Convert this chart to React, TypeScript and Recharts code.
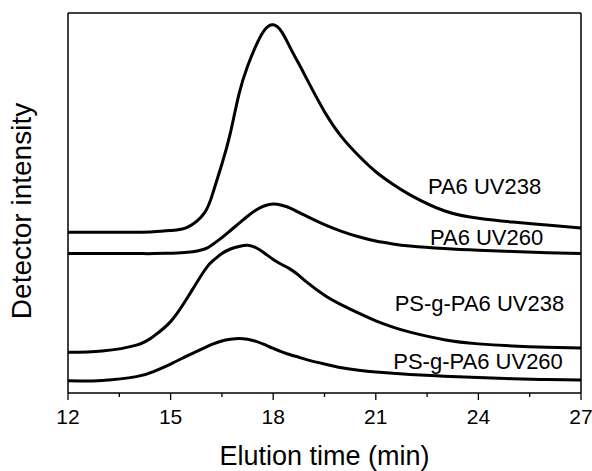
import React from 'react';
import { LineChart, Line, XAxis, YAxis, ReferenceDot } from 'recharts';

// elution time (min)
const times = [12, 13, 14, 14.5, 15, 15.5, 16, 16.25, 16.5, 16.75, 17, 17.25, 17.5, 17.75, 18, 18.25, 18.5, 18.75, 19, 19.5, 20, 20.5, 21, 21.5, 22, 23, 24, 25, 26, 27];

// detector traces (offset, arbitrary units)
const pa6Uv238 = [3.83, 3.83, 3.83, 3.84, 3.87, 3.95, 4.3, 4.8, 5.45, 6.2, 7.12, 7.78, 8.28, 8.65, 8.77, 8.6, 8.22, 7.84, 7.45, 6.7, 6.1, 5.65, 5.27, 4.97, 4.72, 4.34, 4.16, 4.07, 4.0, 3.93];
const pa6Uv260 = [3.32, 3.32, 3.32, 3.32, 3.33, 3.35, 3.43, 3.55, 3.7, 3.87, 4.04, 4.21, 4.36, 4.46, 4.5, 4.47, 4.4, 4.3, 4.2, 4.01, 3.85, 3.72, 3.62, 3.55, 3.5, 3.44, 3.4, 3.37, 3.34, 3.32];
const psPa6Uv238 = [0.97, 1.0, 1.14, 1.35, 1.7, 2.28, 2.93, 3.16, 3.32, 3.43, 3.49, 3.52, 3.46, 3.33, 3.18, 3.06, 2.95, 2.8, 2.63, 2.33, 2.1, 1.9, 1.72, 1.57, 1.45, 1.27, 1.17, 1.12, 1.09, 1.07];
const psPa6Uv260 = [0.29, 0.3, 0.39, 0.51, 0.69, 0.89, 1.08, 1.17, 1.24, 1.28, 1.3, 1.28, 1.23, 1.15, 1.06, 0.98, 0.91, 0.85, 0.79, 0.69, 0.6, 0.54, 0.5, 0.47, 0.44, 0.4, 0.37, 0.34, 0.32, 0.31];

const majorTicks = [12, 15, 18, 21, 24, 27];
const xTicks = [12, 13.5, 15, 16.5, 18, 19.5, 21, 22.5, 24, 25.5, 27];
const yTicks = [0.5, 1.5, 2.5, 3.5, 4.5, 5.5, 6.5, 7.5, 8.5];

const traceNames = ['PA6 UV238', 'PA6 UV260', 'PS-g-PA6 UV238', 'PS-g-PA6 UV260'];
// where each name sits, in data units
const nameAt = [
  { x: 24.18, y: 4.93 },
  { x: 24.24, y: 3.7 },
  { x: 24.03, y: 2.14 },
  { x: 23.99, y: 0.76 },
];

const rows = times.map((t, i) => ({
  t,
  a: pa6Uv238[i],
  b: pa6Uv260[i],
  c: psPa6Uv238[i],
  d: psPa6Uv260[i],
}));

const ink = '#000';

function BottomTick(props: any) {
  const { x, y, payload } = props;
  const major = majorTicks.includes(payload.value);
  return (
    <g>
      <line x1={x} x2={x} y1={y} y2={y + (major ? 7 : 4)} stroke={ink} strokeWidth={1.3} />
      {major && (
        <text x={x} y={y + 31} textAnchor="middle" fontSize={21} fill={ink}>
          {payload.value}
        </text>
      )}
    </g>
  );
}

const YTitle = () => (
  <text x={31} y={211} transform="rotate(-90 31 211)" textAnchor="middle" fontSize={28} fill={ink}>
    Detector intensity
  </text>
);

export default function App() {
  return (
    <div style={{ position: 'absolute', left: 0, top: 0, fontFamily: '"Liberation Sans", Arial, sans-serif' }}>
      <LineChart width={592} height={471} data={rows} margin={{ top: 12, right: 10, bottom: 0, left: 67 }}>
        <XAxis
          xAxisId="b"
          dataKey="t"
          type="number"
          domain={[12, 27]}
          ticks={xTicks}
          height={78}
          tickSize={0}
          tickMargin={0}
          tickLine={false}
          tick={<BottomTick />}
          axisLine={{ stroke: ink, strokeWidth: 1.5 }}
          interval={0}
          label={{ value: 'Elution time (min)', position: 'insideBottom', offset: 6, fontSize: 27, fill: ink }}
        />
        <XAxis
          xAxisId="t"
          orientation="top"
          dataKey="t"
          type="number"
          domain={[12, 27]}
          ticks={xTicks}
          height={1}
          tick={false}
          tickSize={-3}
          tickLine={{ stroke: ink }}
          axisLine={{ stroke: ink, strokeWidth: 1.5 }}
          interval={0}
        />
        <YAxis
          yAxisId="l"
          type="number"
          domain={[0, 9.05]}
          ticks={yTicks}
          width={1}
          tick={false}
          tickSize={-3}
          tickLine={{ stroke: ink }}
          axisLine={{ stroke: ink, strokeWidth: 1.5 }}
          interval={0}
          label={{ content: YTitle }}
        />
        <YAxis
          yAxisId="r"
          orientation="right"
          type="number"
          domain={[0, 9.05]}
          ticks={yTicks}
          width={1}
          tick={false}
          tickSize={-3}
          tickLine={{ stroke: ink }}
          axisLine={{ stroke: ink, strokeWidth: 1.5 }}
          interval={0}
        />
        {['a', 'b', 'c', 'd'].map((k) => (
          <Line
            key={k}
            xAxisId="b"
            yAxisId="l"
            dataKey={k}
            type="natural"
            stroke={ink}
            strokeWidth={3}
            dot={false}
            activeDot={false}
            isAnimationActive={false}
          />
        ))}
        {traceNames.map((name, i) => (
          <ReferenceDot
            key={name}
            xAxisId="b"
            yAxisId="l"
            x={nameAt[i].x}
            y={nameAt[i].y}
            r={0}
            fill="none"
            stroke="none"
            ifOverflow="visible"
            label={{ value: name, position: 'center', fontSize: 22, fill: ink }}
          />
        ))}
      </LineChart>
    </div>
  );
}
